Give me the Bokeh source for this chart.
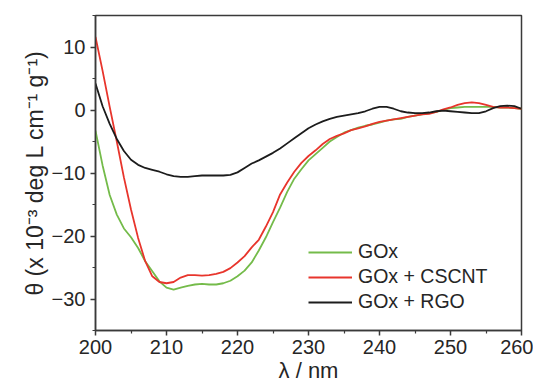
from bokeh.plotting import figure
from bokeh.models import Range1d, FixedTicker, Legend, LegendItem
from bokeh.embed import file_html
from bokeh.resources import INLINE

wavelength = list(range(200, 261))

gox = [-3.3, -8.8, -13.5, -16.6, -18.8, -20.2, -21.9, -24.0, -25.6, -27.2,
       -28.2, -28.5, -28.2, -27.9, -27.7, -27.6, -27.7, -27.7, -27.5, -27.1,
       -26.4, -25.5, -24.2, -22.3, -20.2, -17.8, -15.5, -13.0, -10.9, -9.4,
       -8.0, -7.0, -6.0, -5.0, -4.3, -3.6, -3.2, -2.8, -2.5, -2.3,
       -2.0, -1.7, -1.5, -1.4, -1.1, -0.9, -0.7, -0.5, -0.3, 0.0,
       0.3, 0.4, 0.5, 0.5, 0.5, 0.5, 0.5, 0.4, 0.4, 0.3, 0.2]

gox_cscnt = [11.6, 6.2, 0.5, -5.0, -10.7, -15.8, -20.3, -24.0, -26.4, -27.3,
             -27.5, -27.3, -26.6, -26.2, -26.2, -26.3, -26.2, -26.0, -25.7, -25.1,
             -24.2, -23.2, -21.8, -20.6, -18.5, -16.2, -13.4, -11.5, -9.8, -8.4,
             -7.3, -6.4, -5.4, -4.6, -4.1, -3.7, -3.2, -2.9, -2.6, -2.2,
             -1.9, -1.7, -1.5, -1.3, -1.1, -0.9, -0.7, -0.6, -0.3, 0.1,
             0.4, 0.8, 1.1, 1.2, 1.1, 0.8, 0.5, 0.4, 0.4, 0.3, 0.2]

gox_rgo = [4.2, 0.6, -2.2, -4.6, -6.5, -7.9, -8.7, -9.2, -9.5, -9.8,
           -10.2, -10.5, -10.6, -10.6, -10.5, -10.4, -10.4, -10.4, -10.4, -10.3,
           -9.9, -9.2, -8.5, -8.0, -7.4, -6.8, -6.1, -5.3, -4.5, -3.7,
           -2.9, -2.3, -1.8, -1.4, -1.1, -0.9, -0.7, -0.5, -0.2, 0.2,
           0.5, 0.5, 0.2, -0.2, -0.4, -0.5, -0.5, -0.4, -0.2, -0.1,
           -0.2, -0.3, -0.4, -0.5, -0.5, -0.2, 0.3, 0.6, 0.7, 0.6, 0.2]

series_names = ["GOx", "GOx + CSCNT", "GOx + RGO"]
series_colors = ["#74bb4a", "#e8352c", "#1c1c1c"]
x_ticks = [200, 210, 220, 230, 240, 250, 260]
y_ticks = [-30, -20, -10, 0, 10]
x_title = "λ / nm"
y_title = "θ (x 10⁻³ deg L cm⁻¹ g⁻¹)"

FONT = "Liberation Sans"
TXT = "#262626"
AX = "#3a3a3a"

p = figure(width=533, height=390, output_backend="svg", toolbar_location=None,
           x_range=Range1d(200, 260), y_range=Range1d(-35, 15),
           min_border_left=95, min_border_right=12, min_border_top=15,
           min_border_bottom=60)
p.grid.visible = False
p.outline_line_color = AX
p.outline_line_width = 1.5
p.background_fill_color = "white"
p.border_fill_color = "white"

renderers = []
for ys, c in zip([gox, gox_cscnt, gox_rgo], series_colors):
    r = p.line(wavelength, ys, line_color=c, line_width=1.8)
    renderers.append(r)

for ax in (p.xaxis[0], p.yaxis[0]):
    ax.axis_line_color = AX
    ax.axis_line_width = 1.5
    ax.major_tick_line_color = AX
    ax.minor_tick_line_color = AX
    ax.major_tick_line_width = 1.5
    ax.minor_tick_line_width = 1.2
    ax.major_tick_in = 0
    ax.major_tick_out = 5
    ax.minor_tick_in = 0
    ax.minor_tick_out = 3
    ax.major_label_text_font = FONT
    ax.major_label_text_font_size = "20px"
    ax.major_label_text_color = TXT
    ax.axis_label_text_font = FONT
    ax.axis_label_text_font_style = "normal"
    ax.axis_label_text_color = TXT

p.xaxis[0].ticker = FixedTicker(ticks=x_ticks, minor_ticks=list(range(205, 260, 10)))
p.yaxis[0].ticker = FixedTicker(ticks=y_ticks, minor_ticks=[-35, -25, -15, -5, 5, 15])
p.xaxis[0].major_label_standoff = 4
p.yaxis[0].major_label_standoff = 5
p.xaxis[0].axis_label = x_title
p.xaxis[0].axis_label_text_font_size = "22px"
p.xaxis[0].axis_label_standoff = 1
p.yaxis[0].axis_label = y_title
p.yaxis[0].axis_label_text_font_size = "23px"
p.yaxis[0].axis_label_standoff = 1

items = [LegendItem(label=n, renderers=[r]) for n, r in zip(series_names, renderers)]
legend = Legend(items=items, location=(213, 17), border_line_color=None,
                background_fill_alpha=0, padding=0, margin=0, spacing=2,
                glyph_width=44, glyph_height=22, label_height=22, label_standoff=6,
                label_text_font=FONT, label_text_font_size="19.5px",
                label_text_color=TXT)
p.add_layout(legend)

open("out.html", "w").write(file_html(p, INLINE))
